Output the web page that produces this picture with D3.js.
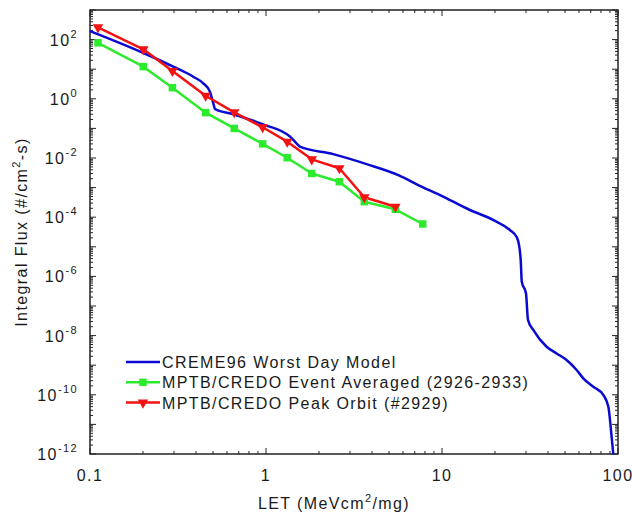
<!DOCTYPE html>
<html>
  <head>
    <meta charset="utf-8" />
    <style>
      body { margin: 0; background: #fff; }
      text { font-family: "Liberation Sans", Arial, sans-serif; fill: #1a1a1a; letter-spacing: 1.4px; }
      .frame { fill: none; stroke: #222; stroke-width: 1.5px; }
      .tick { stroke: #222; stroke-width: 1px; }
      .series { fill: none; stroke-width: 2.5px; stroke-linejoin: round; }
    </style>
  </head>
  <body>
    <svg width="632" height="519"></svg>

    <script src="https://d3js.org/d3.v7.min.js"></script>
    <script>
      // CREME96 worst day model (LET, integral flux)
      const cremeLet = [0.1, 0.2, 0.297, 0.386, 0.44, 0.48, 0.502, 0.513, 0.652, 0.97, 1.37, 1.49, 1.56,
        2.41, 3.73, 5.77, 7.33, 9.75, 14.4, 19.6, 24.3, 26.6, 27.5, 28.0, 28.4, 30, 30.8, 33, 39.3,
        44.8, 51, 58.2, 63.5, 72.4, 82.6, 88.1, 92, 94];
      const cremeFlux = [195, 36, 12.2, 5.58, 3.34, 1.74, 0.705, 0.452, 0.3, 0.135, 0.0525, 0.0314, 0.0241,
        0.0135, 0.0062, 0.0025, 0.00122, 5.6e-4, 1.75e-4, 8e-5, 3.7e-5, 2.1e-5, 1e-5, 3.6e-6, 6.6e-7,
        2.7e-7, 3.4e-8, 1.55e-8, 4.2e-9, 2.5e-9, 1.5e-9, 6.9e-10, 3.6e-10, 1.87e-10, 9.8e-11, 4e-11,
        3.8e-12, 1e-12];

      // MPTB/CREDO event averaged
      const avgLet = [0.111, 0.201, 0.294, 0.454, 0.66, 0.957, 1.32, 1.82, 2.61, 3.62, 5.43, 7.77];
      const avgFlux = [78, 12.2, 2.37, 0.34, 0.1, 0.03, 0.0102, 0.003, 0.00158, 3.34e-4, 1.85e-4, 5.9e-5];

      // MPTB/CREDO peak orbit
      const peakLet = [0.111, 0.201, 0.294, 0.454, 0.66, 0.957, 1.32, 1.82, 2.61, 3.62, 5.43];
      const peakFlux = [260, 47, 8.7, 1.27, 0.35, 0.109, 0.0356, 0.009, 0.0045, 4.7e-4, 2.26e-4];

      const seriesNames = [
        "CREME96 Worst Day Model",
        "MPTB/CREDO Event Averaged (2926-2933)",
        "MPTB/CREDO Peak Orbit (#2929)",
      ];
      const xTickLabels = ["0.1", "1", "10", "100"];
      const yExponents = [-12, -10, -8, -6, -4, -2, 0, 2];

      const colors = ["#0a0ad2", "#2cea2c", "#f21212"];

      const svg = d3.select("svg");
      const mLeft = 90, mRight = 618, mTop = 10, mBottom = 454;

      const x = d3.scaleLog().domain([0.1, 100]).range([mLeft, mRight]);
      const y = d3.scaleLog().domain([1e-12, 1e3]).range([mBottom, mTop]);

      // tick positions (log decades + minors)
      const xMajor = [0.1, 1, 10, 100];
      const xMinor = [];
      [0.1, 1, 10].forEach((d) => d3.range(2, 10).forEach((m) => xMinor.push(d * m)));
      const yMajor = d3.range(-12, 4).map((e) => Math.pow(10, e));
      const yMinor = [];
      d3.range(-12, 3).forEach((e) => d3.range(2, 10).forEach((m) => yMinor.push(m * Math.pow(10, e))));

      const ticks = svg.append("g");
      const tick = (x1, y1, x2, y2) =>
        ticks.append("line").attr("class", "tick").attr("x1", x1).attr("y1", y1).attr("x2", x2).attr("y2", y2);

      xMajor.forEach((v) => { tick(x(v), mBottom, x(v), mBottom - 6); tick(x(v), mTop, x(v), mTop + 6); });
      xMinor.forEach((v) => { tick(x(v), mBottom, x(v), mBottom - 3); tick(x(v), mTop, x(v), mTop + 3); });
      yMajor.forEach((v) => { tick(mLeft, y(v), mLeft + 6, y(v)); tick(mRight, y(v), mRight - 6, y(v)); });
      yMinor.forEach((v) => { tick(mLeft, y(v), mLeft + 3, y(v)); tick(mRight, y(v), mRight - 3, y(v)); });

      svg.append("rect").attr("class", "frame")
        .attr("x", mLeft).attr("y", mTop).attr("width", mRight - mLeft).attr("height", mBottom - mTop);

      // x tick labels
      svg.append("g").selectAll("text")
        .data(xTickLabels)
        .join("text")
        .attr("x", (d) => x(+d))
        .attr("y", 481)
        .attr("text-anchor", "middle")
        .attr("font-size", 16)
        .text((d) => d);

      // y tick labels: 10^n
      const yl = svg.append("g").selectAll("text")
        .data(yExponents)
        .join("text")
        .attr("x", 78)
        .attr("y", (d) => y(Math.pow(10, d)) + 6)
        .attr("text-anchor", "end")
        .attr("font-size", 16);
      yl.append("tspan").text("10");
      yl.append("tspan").attr("font-size", 11).attr("dy", -8).text((d) => d);

      // axis titles
      const xt = svg.append("text")
        .attr("x", 334).attr("y", 509)
        .attr("text-anchor", "middle").attr("font-size", 16);
      xt.append("tspan").text("LET (MeVcm");
      xt.append("tspan").attr("font-size", 11).attr("dy", -7).text("2");
      xt.append("tspan").attr("dy", 7).text("/mg)");

      const yt = svg.append("text")
        .attr("transform", `translate(27,${(mTop + mBottom) / 2}) rotate(-90)`)
        .attr("text-anchor", "middle").attr("font-size", 16);
      yt.append("tspan").text("Integral Flux (#/cm");
      yt.append("tspan").attr("font-size", 11).attr("dy", -7).text("2");
      yt.append("tspan").attr("dy", 7).text("-s)");

      // series
      const line = d3.line().x((d) => x(d[0])).y((d) => y(d[1]));
      const smooth = d3.line().curve(d3.curveMonotoneX).x((d) => x(d[0])).y((d) => y(d[1]));
      const creme = cremeLet.map((v, i) => [v, cremeFlux[i]]);
      const avg = avgLet.map((v, i) => [v, avgFlux[i]]);
      const peak = peakLet.map((v, i) => [v, peakFlux[i]]);

      const plot = svg.append("g");
      plot.append("path").attr("class", "series").attr("stroke", colors[0]).attr("d", smooth(creme));
      plot.append("path").attr("class", "series").attr("stroke", colors[1]).attr("d", line(avg));
      plot.append("path").attr("class", "series").attr("stroke", colors[2]).attr("d", line(peak));

      const square = d3.symbol().type(d3.symbolSquare).size(56);
      const tri = d3.symbol().type(d3.symbolTriangle).size(48);

      plot.selectAll(".sq")
        .data(avg)
        .join("path")
        .attr("class", "sq")
        .attr("fill", colors[1])
        .attr("d", square)
        .attr("transform", (d) => `translate(${x(d[0])},${y(d[1])})`);

      plot.selectAll(".tri")
        .data(peak)
        .join("path")
        .attr("class", "tri")
        .attr("fill", colors[2])
        .attr("d", tri)
        .attr("transform", (d) => `translate(${x(d[0])},${y(d[1])}) rotate(180)`);

      // legend
      const legend = svg.append("g");
      seriesNames.forEach((name, i) => {
        const ly = 362 + i * 20.3;
        legend.append("line").attr("x1", 126).attr("x2", 160).attr("y1", ly).attr("y2", ly)
          .attr("stroke", colors[i]).attr("stroke-width", 2.5);
        if (i === 1) legend.append("path").attr("d", square).attr("fill", colors[1])
          .attr("transform", `translate(143,${ly})`);
        if (i === 2) legend.append("path").attr("d", tri).attr("fill", colors[2])
          .attr("transform", `translate(143,${ly}) rotate(180)`);
        legend.append("text").attr("x", 162).attr("y", ly + 6).attr("font-size", 16).text(name);
      });
    </script>
  </body>
</html>
